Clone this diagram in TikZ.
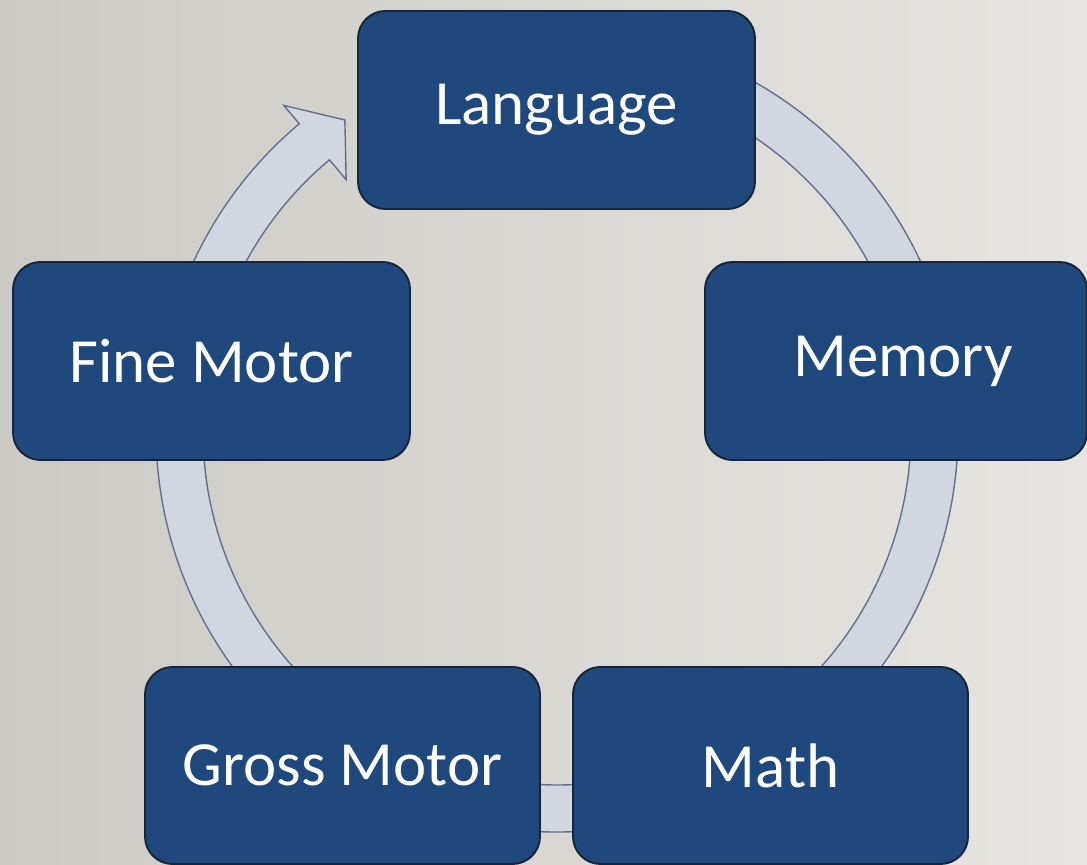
\documentclass[tikz,border=0pt]{standalone}
\usepackage{fontspec}
\setmainfont{Carlito}
\usepackage{tikz}
\usetikzlibrary{positioning}
\definecolor{boxblue}{RGB}{31,73,125}
\definecolor{boxedge}{RGB}{24,36,56}
\definecolor{ringfill}{RGB}{210,214,224}
\definecolor{ringedge}{RGB}{100,112,138}
\tikzset{
  stage/.style={
    rectangle, rounded corners=0.55cm, minimum width=7.94cm, minimum height=3.96cm,
    text centered, draw=boxedge, line width=1.1pt, fill=boxblue, text=white,
    font=\fontsize{35.8}{43}\selectfont
  },
  ring/.style={
    fill=ringfill, draw=ringedge, line width=0.8pt, line join=miter
  }
}

\begin{document}
\begin{tikzpicture}

% Background
\useasboundingbox (0,0) rectangle (21.74,17.3);
\fill[left color={rgb,255:red,204;green,202;blue,197}, right color={rgb,255:red,230;green,229;blue,225}] (0,0) rectangle (21.74,17.3);

% Cycle ring
\coordinate (ctr) at (11.14,8.68);
\draw[ring, shift={(ctr)}] (95:8.02) arc[start angle=95, end angle=-230, radius=8.02]
  -- (-230:8.5) -- (-235.7:7.53) -- (-230:6.56) -- (-230:7.08)
  arc[start angle=-230, end angle=95, radius=7.08] -- cycle;

% Stages
\node[stage] (lang) at (11.13,15.10) {Language};
\node[stage, minimum width=7.64cm] (mem) at (17.92,10.08) {\hspace*{0.28cm}Memory};
\node[stage, minimum width=7.9cm, minimum height=3.94cm] (math) at (15.41,1.99) {Math};
\node[stage, minimum width=7.9cm, minimum height=3.94cm] (gross) at (6.85,1.99) {Gross Motor};
\node[stage] (fine) at (4.23,10.08) {Fine Motor};

\end{tikzpicture}
\end{document}
